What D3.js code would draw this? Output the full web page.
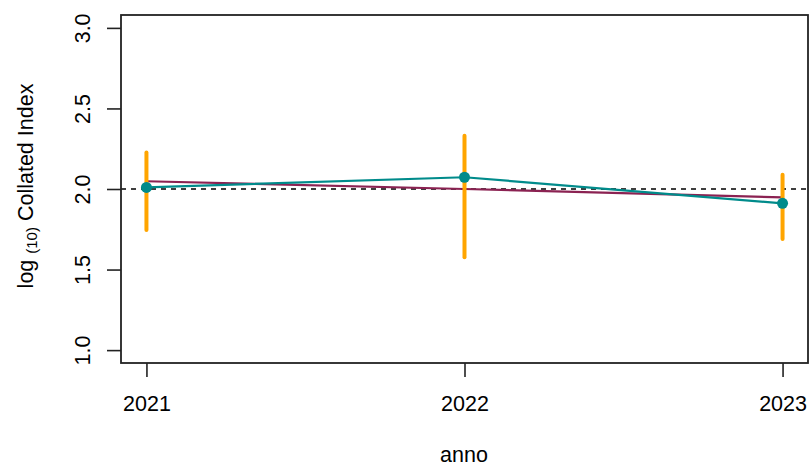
<!DOCTYPE html>
<html>
<head>
<meta charset="utf-8">
<script src="https://cdn.jsdelivr.net/npm/d3@7"></script>
<style>
  body { margin: 0; background: #fff; }
  text { font-family: "Liberation Sans", Arial, sans-serif; fill: #000; }
</style>
</head>
<body>
<svg width="811" height="469"></svg>
<script>
// data
var years = [2021, 2022, 2023];
var indexValues = [2.01, 2.073, 1.911];
var lowerCI = [1.746, 1.577, 1.69];
var upperCI = [2.227, 2.331, 2.089];
var trendValues = [2.048, 2.0, 1.948];
var yTicks = [1.0, 1.5, 2.0, 2.5, 3.0];

var fontSize = 21.5;

var svg = d3.select("svg"),
    width = +svg.attr("width"),
    height = +svg.attr("height");

var x = d3.scaleLinear()
    .domain([2020.92, 2023.08])
    .range([121, 808]);

var y = d3.scaleLinear()
    .domain([0.92, 3.08])
    .range([363, 15]);

// reference line at 2
svg.append("line")
    .attr("x1", x.range()[0])
    .attr("x2", x.range()[1])
    .attr("y1", y(2))
    .attr("y2", y(2))
    .attr("stroke", "#000")
    .attr("stroke-width", 1.7)
    .attr("stroke-dasharray", "5,5");

var line = d3.line()
    .x(function(d) { return x(d[0]); })
    .y(function(d) { return y(d[1]); });

svg.append("path")
    .datum(d3.zip(years, trendValues))
    .attr("d", line)
    .attr("fill", "none")
    .attr("stroke", "#8B2252")
    .attr("stroke-width", 2.2);

svg.append("path")
    .datum(d3.zip(years, indexValues))
    .attr("d", line)
    .attr("fill", "none")
    .attr("stroke", "#008B8B")
    .attr("stroke-width", 2.2);

svg.selectAll(".ci")
  .data(years)
  .enter().append("line")
    .attr("class", "ci")
    .attr("x1", function(d) { return x(d); })
    .attr("x2", function(d) { return x(d); })
    .attr("y1", function(d, i) { return y(lowerCI[i]); })
    .attr("y2", function(d, i) { return y(upperCI[i]); })
    .attr("stroke", "#FFA500")
    .attr("stroke-width", 4)
    .attr("stroke-linecap", "round");

svg.selectAll(".pt")
  .data(years)
  .enter().append("circle")
    .attr("class", "pt")
    .attr("cx", function(d) { return x(d); })
    .attr("cy", function(d, i) { return y(indexValues[i]); })
    .attr("r", 5.5)
    .attr("fill", "#008B8B");

// box
svg.append("rect")
    .attr("x", x.range()[0])
    .attr("y", y.range()[1])
    .attr("width", x.range()[1] - x.range()[0])
    .attr("height", y.range()[0] - y.range()[1])
    .attr("fill", "none")
    .attr("stroke", "#222")
    .attr("stroke-width", 1.8);

// x axis
var gx = svg.append("g")
    .attr("transform", "translate(0," + y.range()[0] + ")")
    .call(d3.axisBottom(x)
      .tickValues(years)
      .tickSize(14)
      .tickPadding(19)
      .tickFormat(d3.format("d")));
gx.select(".domain").remove();
gx.selectAll("line").attr("stroke", "#222").attr("stroke-width", 1.6);
gx.selectAll("text").attr("font-size", fontSize).style("font-family", "Liberation Sans, Arial, sans-serif");

// y axis
var gy = svg.append("g")
    .attr("transform", "translate(" + x.range()[0] + ",0)")
    .call(d3.axisLeft(y)
      .tickValues(yTicks)
      .tickSize(14)
      .tickFormat(d3.format(".1f")));
gy.select(".domain").remove();
gy.selectAll("line").attr("stroke", "#222").attr("stroke-width", 1.6);
gy.selectAll("text")
    .attr("font-size", fontSize)
    .style("font-family", "Liberation Sans, Arial, sans-serif")
    .attr("x", null)
    .attr("dy", null)
    .attr("text-anchor", "middle")
    .attr("transform", "translate(-31,0) rotate(-90)");

// axis titles
svg.append("text")
    .attr("x", 464)
    .attr("y", 462)
    .attr("text-anchor", "middle")
    .attr("font-size", fontSize)
    .text("anno");

var yt = svg.append("text")
    .attr("transform", "translate(33,186) rotate(-90)")
    .attr("text-anchor", "middle")
    .attr("font-size", fontSize);
yt.append("tspan").text("log ");
yt.append("tspan").attr("font-size", 15).attr("dy", 4).text("(10)");
yt.append("tspan").attr("dy", -4).text(" Collated Index");
</script>
</body>
</html>
